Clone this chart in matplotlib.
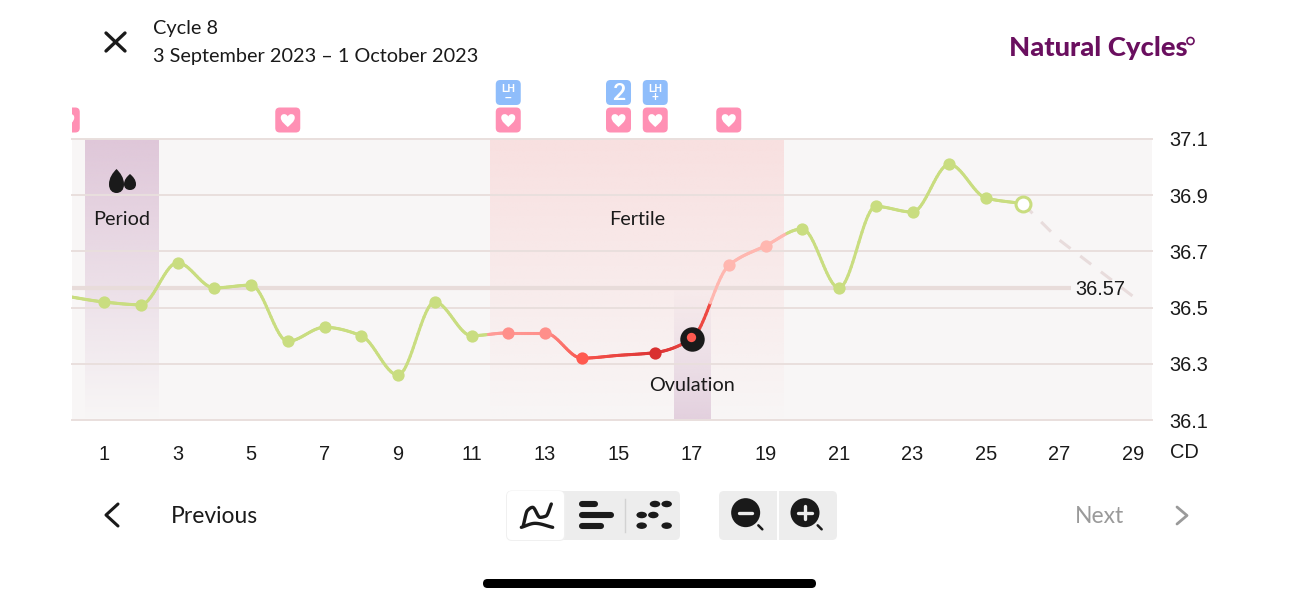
import numpy as np
import matplotlib
matplotlib.use('Agg')
import matplotlib.pyplot as plt
from matplotlib.collections import LineCollection
from matplotlib.colors import to_rgb
from matplotlib.patches import Circle, Ellipse, FancyBboxPatch, PathPatch, Rectangle
from matplotlib.path import Path

UI_FONT = 'Lato'
NUM_FONT = 'Liberation Sans'

#### data
days = [0, 1, 2, 3, 4, 5, 6, 7, 8, 9, 10, 11, 12, 13, 14, 15, 16, 17, 18, 19, 20, 21, 22, 23, 24, 25, 26]
temps = [36.54, 36.52, 36.51, 36.66, 36.57, 36.58, 36.38, 36.43, 36.40, 36.26, 36.52, 36.40, 36.41,
         36.41, 36.32, 36.33, 36.34, 36.39, 36.65, 36.72, 36.78, 36.57, 36.86, 36.84, 37.01, 36.89, 36.87]
green_days = [1, 2, 3, 4, 5, 6, 7, 8, 9, 10, 11, 20, 21, 22, 23, 24, 25]
pink_days = [12, 13]
red_days = [14]
dark_days = [16]
pale_days = [18, 19]
ovulation_day = 17
today = 26

pred_days = [26, 27, 28, 29]
pred_temps = [36.87, 36.74, 36.64, 36.54]
coverline = 36.57

heart_days = [0, 6, 12, 15, 16, 18]
blue_days = [12, 15, 16]
blue_labels = ['–', '2', '+']

xticks = list(range(1, 30, 2))
yticks = [36.1, 36.3, 36.5, 36.7, 36.9, 37.1]

# colour of the curve along the x axis
stop_x = [0, 11.45, 11.45, 13, 14, 16, 17.5, 17.5, 19.55, 19.55, 26]
stop_c = ['#C9DD80', '#C9DD80', '#FF9C98', '#FF8F8A', '#F8544C', '#DC3535', '#F04A44',
          '#FFB7B0', '#FFB7B0', '#C9DD80', '#C9DD80']

GREEN = '#C9DD80'
BLACK = '#1A1A1A'
PINK = '#FF90B4'
BLUE = '#8FBDFB'
GRID = '#E9DFDD'


def monotone_curve(xs, ys, n=24):
    # same shape as a monotone-x curve, only used to draw the line between readings
    xs = np.array(xs, dtype=float)
    ys = np.array(ys, dtype=float)
    s = np.diff(ys) / np.diff(xs)
    m = np.zeros(len(xs))
    for i in range(1, len(xs) - 1):
        if s[i - 1] * s[i] > 0:
            m[i] = 2 * s[i - 1] * s[i] / (s[i - 1] + s[i])
    m[0] = s[0]
    m[-1] = s[-1]
    X = []
    Y = []
    for i in range(len(xs) - 1):
        t = np.linspace(0, 1, n, endpoint=False)
        h = xs[i + 1] - xs[i]
        X.extend(xs[i] + t * h)
        Y.extend((2 * t**3 - 3 * t**2 + 1) * ys[i] + (t**3 - 2 * t**2 + t) * h * m[i]
                 + (-2 * t**3 + 3 * t**2) * ys[i + 1] + (t**3 - t**2) * h * m[i + 1])
    X.append(xs[-1])
    Y.append(ys[-1])
    return np.array(X), np.array(Y)


def band(ax, x0, x1, y_top, y_bot, color, a_top, a_bot):
    r, g, b = to_rgb(color)
    alpha = np.linspace(a_top, a_bot, 128)
    img = np.zeros((128, 1, 4))
    img[:, 0, 0] = r
    img[:, 0, 1] = g
    img[:, 0, 2] = b
    img[:, 0, 3] = alpha
    ax.imshow(img, extent=(x0, x1, y_bot, y_top), aspect='auto', zorder=1, interpolation='bilinear')


fig = plt.figure(figsize=(12.98, 6), dpi=100, facecolor='white')
ax = fig.add_axes([72 / 1298, 1 - 420 / 600, 1080 / 1298, 281 / 600])
ax.set_facecolor('#F8F6F6')
band(ax, 0.49, 2.48, 37.1, 36.1, '#DFC7D9', 1, 0)
band(ax, 11.5, 19.5, 37.1, 36.1, '#F8E0E0', 1, 0)
band(ax, 16.5, 17.5, 36.58, 36.1, '#E3D0DE', 0, 1)
ax.set_xlim(0.129, 29.517)
ax.set_ylim(36.1, 37.1)
for s in ax.spines.values():
    s.set_visible(False)
ax.set_xticks(xticks)
ax.set_yticks(yticks)
ax.yaxis.tick_right()
ax.tick_params(axis='x', length=0, pad=18, labelsize=14.4, labelcolor=BLACK)
ax.tick_params(axis='y', length=0, pad=12.5, labelsize=14.4, labelcolor=BLACK)
for t in ax.get_xticklabels() + ax.get_yticklabels():
    t.set_fontfamily(NUM_FONT)
ax.grid(axis='y', color=GRID, lw=1.4, zorder=2)
ax.set_axisbelow(False)
for l in ax.get_ygridlines():
    l.set_clip_on(False)
    l.set_zorder(2)

# coverline
ax.plot([0.129, 27.3], [coverline, coverline], color='#E8DCDA', lw=3, zorder=3, solid_capstyle='butt')
ax.text(27.44, coverline - 0.005, '36.57', ha='left', va='center', fontsize=14.4, family=NUM_FONT, color=BLACK, zorder=6)

# prediction
ax.plot(pred_days, pred_temps, color='#E8DCDC', lw=2.2, dashes=(4.5, 4), zorder=3)

# curve
X, Y = monotone_curve(days, temps)
rgb = np.array([to_rgb(c) for c in stop_c])
cols = np.column_stack([np.interp(X[:-1], stop_x, rgb[:, i]) for i in range(3)])
pts = np.column_stack([X, Y]).reshape(-1, 1, 2)
segs = np.concatenate([pts[:-1], pts[1:]], axis=1)
ax.add_collection(LineCollection(segs, colors=cols, linewidths=2.2, zorder=4, capstyle='round'))


def dots(ds, color):
    ys = [temps[days.index(d)] for d in ds]
    ax.scatter(ds, ys, s=78, color=color, linewidths=0, zorder=5)


dots(green_days, GREEN)
dots(pink_days, '#FF8F8A')
dots(red_days, '#FF5A50')
dots(dark_days, '#D93030')
dots(pale_days, '#FFB7B0')
ov_t = temps[days.index(ovulation_day)]
ax.scatter([ovulation_day], [ov_t], s=310, color=BLACK, linewidths=0, zorder=5)
ax.scatter([ovulation_day - 0.04], [ov_t + 0.007], s=45, color='#FF5A50', linewidths=0, zorder=6)
ax.scatter([today], [temps[days.index(today)]], s=115, color='white', edgecolors=GREEN, linewidths=2.2, zorder=5)

ax.text(1.47, 36.813, 'Period', ha='center', va='center', fontsize=14.3, family=UI_FONT, color=BLACK, zorder=6)
ax.text(15.5, 36.813, 'Fertile', ha='center', va='center', fontsize=14.3, family=UI_FONT, color=BLACK, zorder=6)
ax.text(17, 36.223, 'Ovulation', ha='center', va='center', fontsize=14.3, family=UI_FONT, color=BLACK, zorder=6)

# overlay in screen pixels for the app chrome
ui = fig.add_axes([0, 0, 1, 1], facecolor='none')
ui.set_xlim(0, 1298)
ui.set_ylim(600, 0)
ui.axis('off')


def day_px(d):
    return ax.transData.transform((d, 36.1))[0]


def rbox(x0, y0, x1, y1, r, color, **kw):
    p = FancyBboxPatch((x0 + r, y0 + r), x1 - x0 - 2 * r, y1 - y0 - 2 * r,
                       boxstyle='round,pad=%f,rounding_size=%f' % (r, r), fc=color, ec='none', **kw)
    ui.add_patch(p)
    return p


def stroke(xs, ys, color=BLACK, lw=2.0):
    ui.plot(xs, ys, color=color, lw=lw, solid_capstyle='round', solid_joinstyle='round')


def heart(cx, cy, w):
    u = w / 2
    v = [(cx, cy + 1.0 * u),
         (cx - 0.35 * u, cy + 0.65 * u), (cx - u, cy + 0.25 * u), (cx - u, cy - 0.35 * u),
         (cx - u, cy - 0.95 * u), (cx - 0.2 * u, cy - 1.0 * u), (cx, cy - 0.5 * u),
         (cx + 0.2 * u, cy - 1.0 * u), (cx + u, cy - 0.95 * u), (cx + u, cy - 0.35 * u),
         (cx + u, cy + 0.25 * u), (cx + 0.35 * u, cy + 0.65 * u), (cx, cy + 1.0 * u)]
    return PathPatch(Path(v, [Path.MOVETO] + [Path.CURVE4] * 12), fc='white', ec='none')


clip_left = Rectangle((72, 0), 1226, 600, transform=ui.transData)
for d in heart_days:
    c = day_px(d)
    p = rbox(c - 12.5, 107.5, c + 12.5, 132.5, 4.5, PINK)
    p.set_clip_path(clip_left)
    h = heart(c, 120, 14)
    ui.add_patch(h)
    h.set_clip_path(clip_left)
for d, lab in zip(blue_days, blue_labels):
    c = day_px(d)
    rbox(c - 12.5, 80, c + 12.5, 105, 4.5, BLUE)
    if lab == '2':
        ui.text(c, 93.5, lab, ha='center', va='center', fontsize=16.5, color='white', family=UI_FONT, weight='bold')
    else:
        ui.text(c, 89, 'LH', ha='center', va='center', fontsize=7.5, color='white', family=NUM_FONT, weight='bold')
        ui.text(c, 97.5, lab, ha='center', va='center', fontsize=8.5, color='white', family=NUM_FONT, weight='bold')


# drops
def drop(cx, top, bot, w):
    h = bot - top
    r = w / 2
    v = [(cx, top), (cx + r * 0.5, top + h * 0.16), (cx + r, top + h * 0.36), (cx + r, top + h * 0.64),
         (cx + r, top + h * 0.88), (cx + r * 0.55, bot), (cx, bot),
         (cx - r * 0.55, bot), (cx - r, top + h * 0.88), (cx - r, top + h * 0.64),
         (cx - r, top + h * 0.36), (cx - r * 0.5, top + h * 0.16), (cx, top)]
    return PathPatch(Path(v, [Path.MOVETO] + [Path.CURVE4] * 12), fc=BLACK, ec='none')


ui.add_patch(drop(116.5, 169, 193, 15))
ui.add_patch(drop(130, 174, 190, 12))

ui.text(1170, 452.5, 'CD', ha='left', va='center', fontsize=14.4, family=NUM_FONT, color=BLACK)

# header
stroke([106, 125], [33, 51], BLACK, 2.4)
stroke([125, 106], [33, 51], BLACK, 2.4)
ui.text(153, 28.5, 'Cycle 8', ha='left', va='center', fontsize=14.3, family=UI_FONT, color=BLACK)
ui.text(153, 56.5, '3 September 2023 – 1 October 2023', ha='left', va='center', fontsize=14.3, family=UI_FONT, color=BLACK)
ui.text(1009, 47.5, 'Natural Cycles', ha='left', va='center', fontsize=19.7, family='Lato', weight='black', color='#6A0F5F')
ui.add_patch(Ellipse((1190.5, 41), 7, 7, fc='none', ec='#6A0F5F', lw=1.2))

# bottom row
stroke([118, 106, 118], [504, 515, 526], BLACK, 2.2)
ui.text(171, 516.5, 'Previous', ha='left', va='center', fontsize=16.5, family=UI_FONT, color=BLACK)
ui.text(1075, 516.5, 'Next', ha='left', va='center', fontsize=16.5, family=UI_FONT, color='#9A9A9A')
stroke([1177, 1187, 1177], [507, 515.5, 524], '#9A9A9A', 2.0)

rbox(507, 491, 680, 540, 5, '#EDEDED')
rbox(506, 490.5, 565.5, 541, 6, '#F0F0F0')
rbox(507, 491, 564, 540, 5, 'white')
rbox(719, 491, 837, 540, 5, '#EDEDED')
ui.plot([778, 778], [491, 540], color='white', lw=1.4)
ui.plot([624.5, 624.5], [499, 532], color='#D2D2D2', lw=1)


def zx(v):
    return 490 + np.asarray(v, dtype=float) / 3


def zy(v):
    return 480 + np.asarray(v, dtype=float) / 3


# line icon
sx, sy = monotone_curve([100, 112, 128, 150, 168, 184], [136, 92, 82, 112, 108, 72])
stroke(zx(sx), zy(sy), BLACK, 2.4)
sx, sy = monotone_curve([94, 135, 188], [142, 130, 142])
stroke(zx(sx), zy(sy), BLACK, 2.4)
# bars icon
stroke([zx(276), zx(316)], [zy(72)] * 2, BLACK, 4.4)
stroke([zx(276), zx(362)], [zy(105)] * 2, BLACK, 4.4)
stroke([zx(276), zx(332)], [zy(138)] * 2, BLACK, 4.4)
# scatter icon
for a, b in [(495, 72), (530, 72), (455, 105), (490, 105), (455, 137), (530, 137)]:
    ui.add_patch(Ellipse((zx(a), zy(b)), 10.5, 6.5, fc=BLACK, ec='none'))
# zoom icons
for a in [767, 945]:
    ui.add_patch(Circle((zx(a), zy(98)), 14.5, fc=BLACK, ec='none'))
    stroke([zx(a + 38), zx(a + 50)], [zy(136), zy(148)], BLACK, 1.8)
    stroke([zx(a - 20), zx(a + 20)], [zy(98), zy(98)], '#EDEDED', 2.4)
stroke([zx(945), zx(945)], [zy(78), zy(118)], '#EDEDED', 2.4)

rbox(483, 579, 816, 588, 4.5, '#000000')

fig.savefig('out.png', dpi=100)
